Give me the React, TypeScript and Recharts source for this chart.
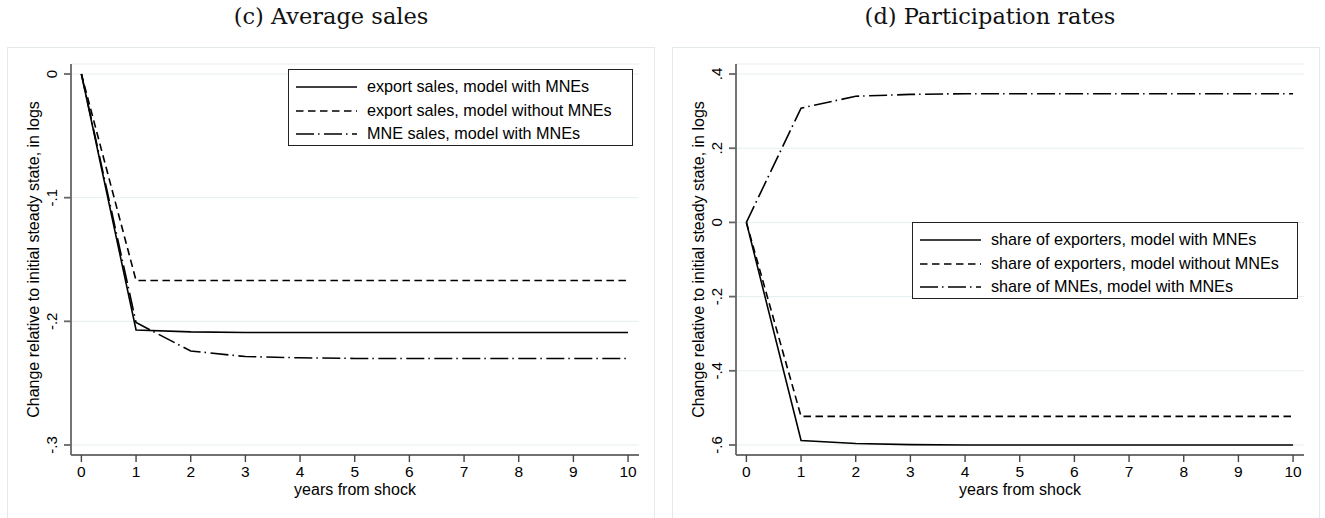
import React from "react";
import { LineChart, Line, XAxis, YAxis, CartesianGrid, Label } from "recharts";

// years after the shock
const years = [0, 1, 2, 3, 4, 5, 6, 7, 8, 9, 10];

// (c) average sales, log change vs. initial steady state
const salesExportMNE = [0, -0.207, -0.2085, -0.209, -0.209, -0.209, -0.209, -0.209, -0.209, -0.209, -0.209];
const salesExportNoMNE = [0, -0.167, -0.167, -0.167, -0.167, -0.167, -0.167, -0.167, -0.167, -0.167, -0.167];
const salesMNE = [0, -0.201, -0.224, -0.2285, -0.2295, -0.23, -0.23, -0.23, -0.23, -0.23, -0.23];

// (d) participation rates
const shareExportersMNE = [0, -0.588, -0.596, -0.599, -0.6, -0.6, -0.6, -0.6, -0.6, -0.6, -0.6];
const shareExportersNoMNE = [0, -0.523, -0.523, -0.523, -0.523, -0.523, -0.523, -0.523, -0.523, -0.523, -0.523];
const shareMNE = [0, 0.308, 0.34, 0.345, 0.347, 0.347, 0.347, 0.347, 0.347, 0.347, 0.347];

const salesTicks = [0, -0.1, -0.2, -0.3];
const shareTicks = [0.4, 0.2, 0, -0.2, -0.4, -0.6];
const xTicks = years;

const salesLabels = [
  "export sales, model with MNEs",
  "export sales, model without MNEs",
  "MNE sales, model with MNEs",
];
const shareLabels = [
  "share of exporters, model with MNEs",
  "share of exporters, model without MNEs",
  "share of MNEs, model with MNEs",
];

const SANS = "'Liberation Sans', Arial, sans-serif";
const DASHES = [undefined, "7.5 4.5", "18 4 1.5 4.5"];
const KEYS = ["s1", "s2", "s3"];

// Stata-style numbers: -.1 instead of -0.1
const fmt = (v: number) => (v === 0 ? "0" : String(Number(v.toFixed(2))).replace("0.", "."));

const YTick = (props: any) => {
  const { x, y, payload } = props;
  return (
    <text
      x={x}
      y={y}
      transform={`rotate(-90 ${x} ${y})`}
      textAnchor="middle"
      fontSize={15}
      fontFamily={SANS}
      fill="#000"
    >
      {fmt(payload.value)}
    </text>
  );
};

const YTitle = (props: any) => {
  const vb = props.viewBox;
  const cx = vb.x + vb.width - 32;
  const cy = vb.y + vb.height / 2;
  return (
    <text
      x={cx}
      y={cy}
      transform={`rotate(-90 ${cx} ${cy})`}
      textAnchor="middle"
      fontSize={16}
      fontFamily={SANS}
      fill="#000"
    >
      Change relative to initial steady state, in logs
    </text>
  );
};

const XTitle = (props: any) => {
  const vb = props.viewBox;
  return (
    <text
      x={vb.x + vb.width / 2}
      y={vb.y + 40}
      textAnchor="middle"
      fontSize={16}
      fontFamily={SANS}
      fill="#000"
    >
      years from shock
    </text>
  );
};

const makeRows = (series: number[][]) =>
  years.map((year, i) => {
    const row: any = { year };
    series.forEach((s, k) => (row[KEYS[k]] = s[i]));
    return row;
  });

interface PanelProps {
  left: number;
  series: number[][];
  domain: [number, number];
  ticks: number[];
}

const Panel: React.FC<PanelProps> = ({ left, series, domain, ticks }) => (
  <div style={{ position: "absolute", left, top: 47 }}>
    <LineChart
      width={648}
      height={470}
      data={makeRows(series)}
      margin={{ top: 17, right: 16, bottom: 17, left: 0 }}
    >
      <CartesianGrid vertical={false} stroke="#e6eef1" strokeWidth={1} />
      <XAxis
        type="number"
        dataKey="year"
        domain={[-0.19, 10.2]}
        ticks={xTicks}
        allowDataOverflow
        height={45}
        tickSize={7}
        tickMargin={4}
        stroke="#444"
        strokeWidth={1.4}
        tick={{ fontSize: 15.5, fill: "#000", fontFamily: SANS }}
      >
        <Label content={<XTitle />} />
      </XAxis>
      <YAxis
        type="number"
        domain={domain}
        ticks={ticks}
        allowDataOverflow
        width={64}
        tickSize={7}
        tickMargin={7}
        stroke="#666"
        strokeWidth={1.8}
        tick={<YTick />}
      >
        <Label content={<YTitle />} />
      </YAxis>
      {KEYS.map((k, i) => (
        <Line
          key={k}
          type="linear"
          dataKey={k}
          stroke="#000"
          strokeWidth={1.6}
          strokeDasharray={DASHES[i]}
          dot={false}
          isAnimationActive={false}
        />
      ))}
    </LineChart>
  </div>
);

const LegendBox: React.FC<{ left: number; top: number; width: number; labels: string[] }> = ({
  left,
  top,
  width,
  labels,
}) => (
  <div
    style={{
      position: "absolute",
      left,
      top,
      width,
      height: 77,
      boxSizing: "border-box",
      border: "1px solid #222",
      background: "#fff",
      fontFamily: SANS,
      fontSize: 16.2,
    }}
  >
    {labels.map((t, i) => (
      <div
        key={t}
        style={{ position: "absolute", left: 0, top: 17 + i * 23.5 - 10, height: 20, width: "100%" }}
      >
        <svg width={70} height={20} style={{ position: "absolute", left: 0, top: 0 }}>
          <line x1={7} y1={10} x2={68} y2={10} stroke="#000" strokeWidth={1.5} strokeDasharray={DASHES[i]} />
        </svg>
        <span style={{ position: "absolute", left: 78, top: 0, whiteSpace: "nowrap", lineHeight: "19px" }}>{t}</span>
      </div>
    ))}
  </div>
);

const titleStyle = (cx: number): React.CSSProperties => ({
  position: "absolute",
  left: cx - 200,
  width: 400,
  top: 2,
  textAlign: "center",
  fontFamily: "'DejaVu Serif', serif",
  fontSize: 22.5,
  lineHeight: "28px",
  color: "#111",
});

const PanelFrame: React.FC<{ left: number }> = ({ left }) => (
  <div
    style={{
      position: "absolute",
      left,
      top: 47,
      width: 648,
      height: 480,
      boxSizing: "border-box",
      border: "1px solid #e4eaea",
    }}
  />
);

export default function App() {
  return (
    <div style={{ position: "absolute", left: 0, top: 0, width: 1325, height: 518, background: "#fff", overflow: "hidden" }}>
      <div style={titleStyle(331)}>(c) Average sales</div>
      <div style={titleStyle(990)}>(d) Participation rates</div>
      <PanelFrame left={7} />
      <PanelFrame left={672} />
      <Panel
        left={7}
        series={[salesExportMNE, salesExportNoMNE, salesMNE]}
        domain={[-0.3081, 0.0081]}
        ticks={salesTicks}
      />
      <Panel
        left={672}
        series={[shareExportersMNE, shareExportersNoMNE, shareMNE]}
        domain={[-0.627, 0.427]}
        ticks={shareTicks}
      />
      <LegendBox left={288} top={69} width={345} labels={salesLabels} />
      <LegendBox left={912} top={222} width={386} labels={shareLabels} />
    </div>
  );
}
